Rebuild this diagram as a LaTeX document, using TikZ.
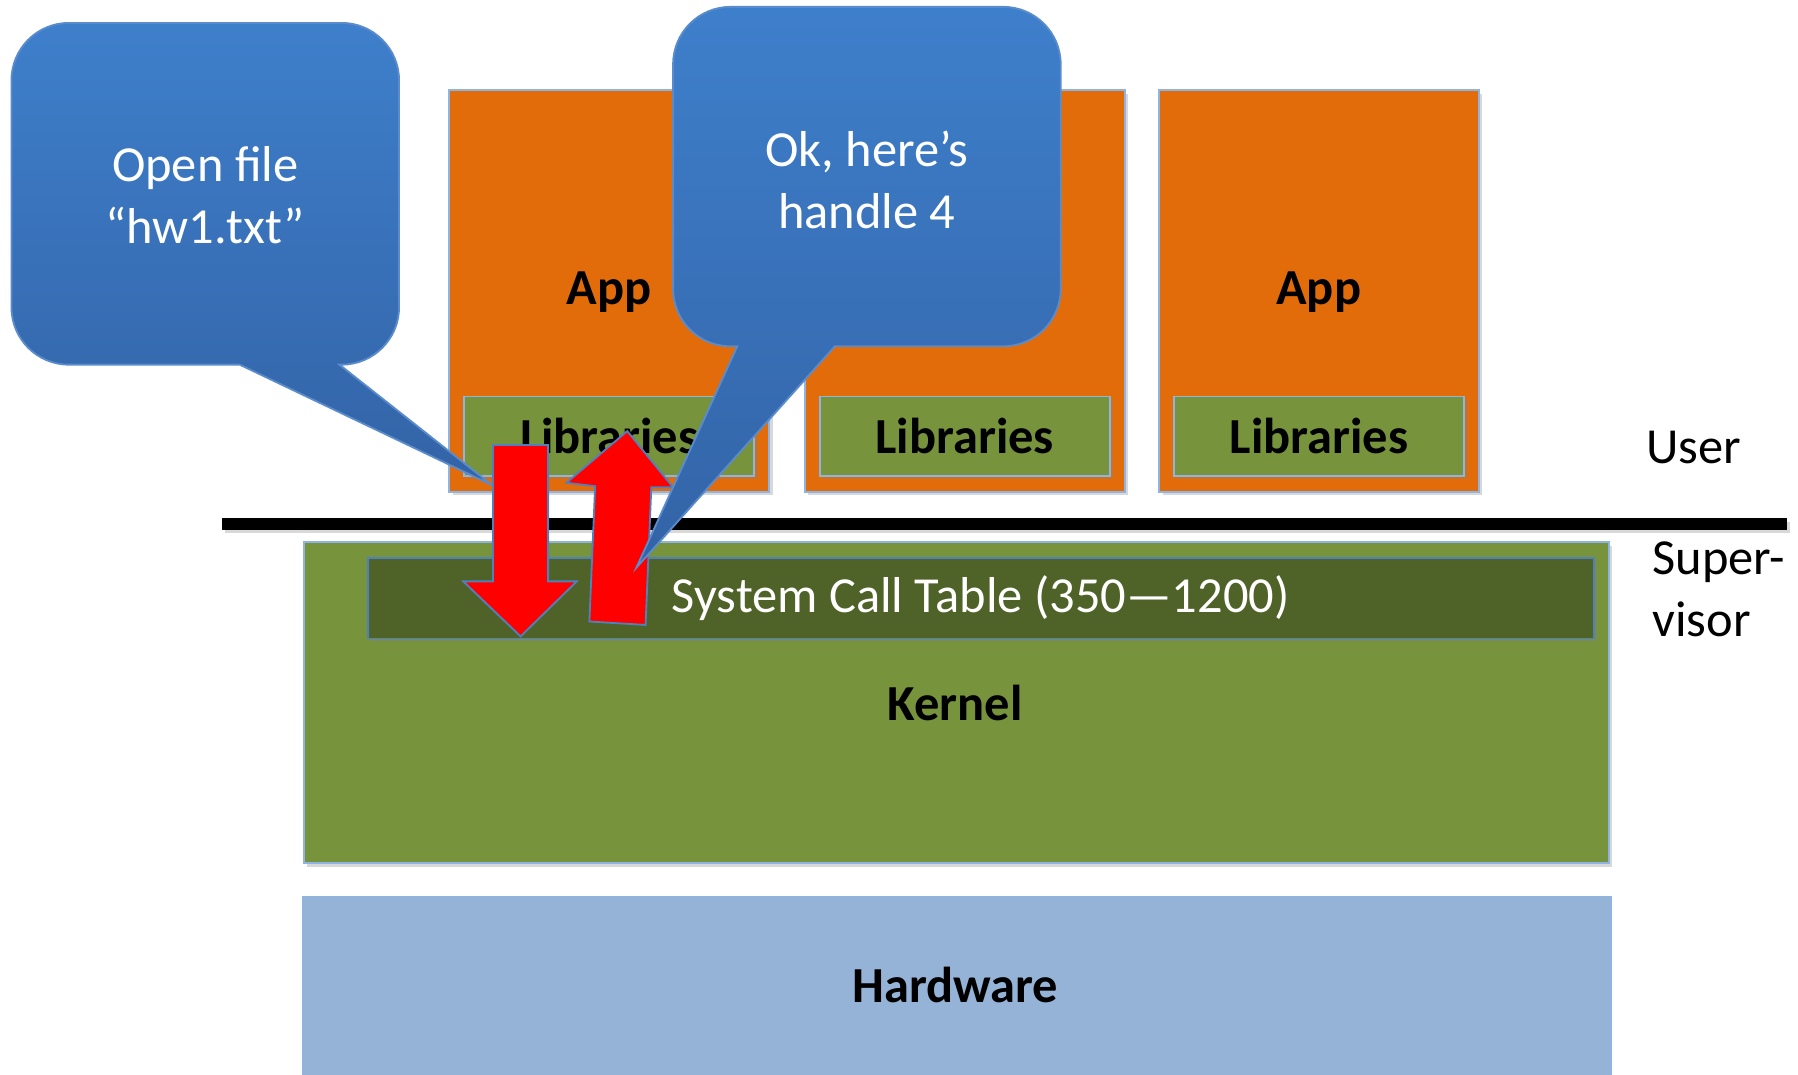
\documentclass[tikz,border=0pt]{standalone}
\usepackage{fontspec}
\setmainfont{Carlito}
\usetikzlibrary{shadows}
\definecolor{orangebox}{RGB}{227,108,10}
\definecolor{libgreen}{RGB}{119,147,60}
\definecolor{sctgreen}{RGB}{79,98,40}
\definecolor{hwblue}{RGB}{149,179,215}
\definecolor{edgeblue}{RGB}{141,180,226}
\definecolor{darkedge}{RGB}{79,129,189}
\definecolor{calltop}{RGB}{62,127,203}
\definecolor{callbot}{RGB}{51,99,166}
\definecolor{calledge}{RGB}{90,140,205}
\tikzset{
  boxshadow/.style={drop shadow={shadow xshift=1.5pt,shadow yshift=-1.5pt,opacity=0.3}},
  txt/.style={font=\fontsize{22}{27}\selectfont, inner sep=0pt, outer sep=0pt},
  boldtxt/.style={font=\fontsize{22}{27}\selectfont\bfseries, inner sep=0pt, outer sep=0pt},
  appbox/.style={draw=edgeblue, line width=0.8pt, fill=orangebox, boxshadow, anchor=north west,
    minimum width=139.5pt, minimum height=175pt, inner sep=0pt},
  libbox/.style={draw=edgeblue, line width=0.8pt, fill=libgreen, boxshadow, anchor=north west,
    minimum width=126.5pt, minimum height=34.5pt, inner sep=0pt, font=\fontsize{22}{27}\selectfont\bfseries},
  kernelbox/.style={draw=edgeblue, line width=0.8pt, fill=libgreen, boxshadow, anchor=north west,
    minimum width=569pt, minimum height=140pt, inner sep=0pt},
  sctbox/.style={draw=darkedge, line width=0.8pt, fill=sctgreen, boxshadow, anchor=north west,
    minimum width=534.5pt, minimum height=35pt, inner sep=0pt, text=white, font=\fontsize{22}{27}\selectfont},
  hwbox/.style={draw=edgeblue, line width=0.8pt, fill=hwblue, anchor=north west,
    minimum width=570.5pt, minimum height=82pt, inner sep=0pt},
  sepline/.style={fill=black, minimum width=682.5pt, minimum height=5pt, inner sep=0pt, anchor=west, boxshadow},
  callout/.style={draw=calledge, line width=0.8pt, top color=calltop, bottom color=callbot},
  callouttxt/.style={txt, text=white, align=center},
  redarrow/.style={fill=red, draw=darkedge, line width=0.8pt, line join=miter},
}
\begin{document}
\begin{tikzpicture}[x=0.5pt,y=-0.5pt]
\useasboundingbox (0,0) rectangle (1568,937);
\fill[white] (0,0) rectangle (1568,937);
% apps
\node[appbox] (app1) at (391,78) {};
\node[appbox] (app2) at (701,78) {};
\node[appbox] (app3) at (1010,78) {};
\node[boldtxt] (apptxt1) at (531,255) {App};
\node[boldtxt] (apptxt3) at (1150,255) {App};
\node[libbox] (lib1) at (404,345) {Libraries};
\node[libbox] (lib2) at (714,345) {Libraries};
\node[libbox] (lib3) at (1023,345) {Libraries};
% separator
\node[sepline] (sep) at (193,457) {};
% kernel
\node[kernelbox] (kernel) at (264,472) {};
\node[sctbox] (sct) at (320,486) {System Call Table (350—1200)};
\node[boldtxt] (kerneltxt) at (833,613) {Kernel};
\node[hwbox] (hw) at (263,781) {};
\node[boldtxt] (hwtxt) at (833,859) {Hardware};
% callout 1
\path[callout] (209,318) -- (429,423) -- (296,318) -- (298,318)
  .. controls (325.6,318) and (348,295.6) .. (348,268) -- (348,70)
  .. controls (348,42.4) and (325.6,20) .. (298,20) -- (60,20)
  .. controls (32.4,20) and (10,42.4) .. (10,70) -- (10,268)
  .. controls (10,295.6) and (32.4,318) .. (60,318) -- cycle;
\node[callouttxt] (c1txt) at (179,170) {Open file\\“hw1.txt”};
% red arrows
\path[redarrow] (430,388) -- (478,388) -- (478,507) -- (503,507) -- (454,555) -- (404,507) -- (430,507) -- cycle;
\path[redarrow] (547,376) -- (587,425) -- (568,425) -- (563,545) -- (514,542) -- (519,424) -- (494,421) -- cycle;
% callout 2
\path[callout] (643,302) -- (555,495) -- (728,302) -- (875,302)
  .. controls (902.6,302) and (925,279.6) .. (925,252) -- (925,56)
  .. controls (925,28.4) and (902.6,6) .. (875,6) -- (637,6)
  .. controls (609.4,6) and (587,28.4) .. (587,56) -- (587,252)
  .. controls (587,279.6) and (609.4,302) .. (637,302) -- cycle;
\node[callouttxt] (c2txt) at (756,157) {Ok, here’s\\handle 4};
% mode labels
\node[txt] (user) at (1477,390) {User};
\node[txt, align=left, anchor=west] (super) at (1441,514) {Super-\\visor};
\end{tikzpicture}
\end{document}
